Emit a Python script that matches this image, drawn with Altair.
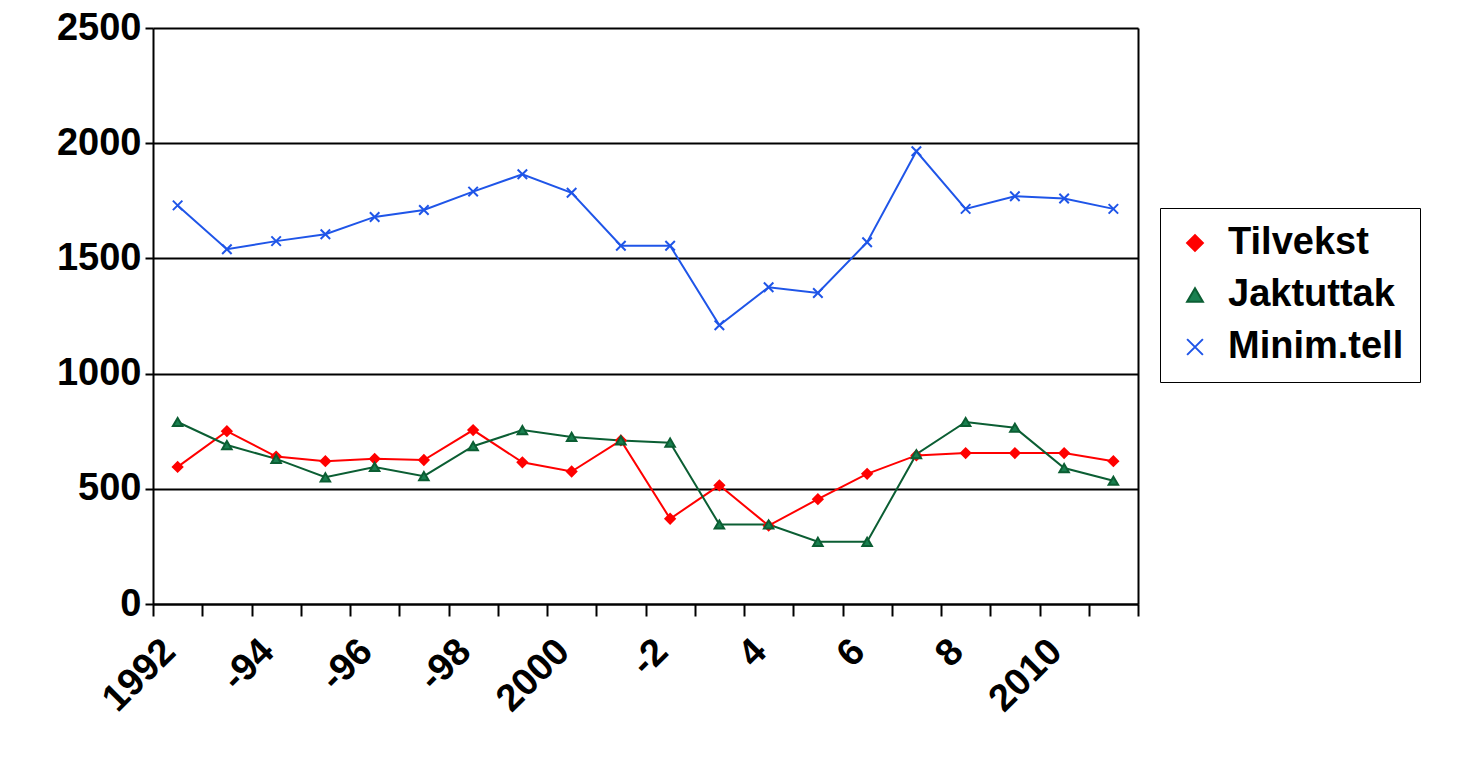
import altair as alt
import pandas as pd

years = [str(y) for y in range(1992, 2012)]
tilvekst = [595, 750, 640, 620, 630, 625, 755, 615, 575, 710, 370, 515, 340, 455, 565, 645, 655, 655, 655, 620]
jaktuttak = [790, 690, 630, 550, 595, 555, 685, 755, 725, 710, 700, 345, 345, 270, 270, 650, 790, 765, 590, 535]
minimtell = [1730, 1540, 1575, 1605, 1680, 1710, 1790, 1865, 1785, 1555, 1555, 1210, 1375, 1350, 1570, 1965, 1715, 1770, 1760, 1715]
series = ["Tilvekst", "Jaktuttak", "Minim.tell"]
labels = {"1992": "1992", "1994": "-94", "1996": "-96", "1998": "-98", "2000": "2000",
          "2002": "-2", "2004": "4", "2006": "6", "2008": "8", "2010": "2010"}

rows = []
for name, vals in zip(series, [tilvekst, jaktuttak, minimtell]):
    for y, v in zip(years, vals):
        rows.append({"year": y, "value": v, "series": name})
df = pd.DataFrame(rows)

expr = "{" + ",".join(f"'{k}':'{v}'" for k, v in labels.items()) + "}[datum.value] || ''"
font = "Liberation Sans"

x = alt.X("year:O", scale=alt.Scale(paddingInner=0, paddingOuter=0),
          axis=alt.Axis(title=None, labelExpr=expr, labelAngle=-45, labelAlign="right",
                        labelBaseline="top", tickBand="extent", tickSize=12, tickColor="black",
                        tickWidth=2, domainColor="black", domainWidth=2, labelFontSize=38,
                        labelFont=font, labelFontWeight="bold", labelColor="black",
                        labelPadding=16, labelOffset=-22, grid=False))
y = alt.Y("value:Q", scale=alt.Scale(domain=[0, 2500]),
          axis=alt.Axis(title=None, values=[0, 500, 1000, 1500, 2000, 2500], format="d", grid=True,
                        gridColor="black", gridWidth=2, domainColor="black", domainWidth=2,
                        tickSize=8, tickColor="black", tickWidth=2, labelFontSize=38,
                        labelFont=font, labelFontWeight="bold", labelColor="black", labelPadding=4))
y_right = alt.Y("value:Q", scale=alt.Scale(domain=[0, 2500]),
                axis=alt.Axis(title=None, orient="right", labels=False, ticks=False, grid=False,
                              domainColor="black", domainWidth=2))
color = alt.Color("series:N", sort=series,
                  scale=alt.Scale(domain=series, range=["#ff0000", "#0b5e33", "#1f55e8"]),
                  legend=alt.Legend(title=None, orient="none", legendX=1007, legendY=180,
                                    labelFontSize=38, labelFont=font, labelFontWeight="bold",
                                    labelColor="black", labelLimit=0, symbolSize=250,
                                    symbolStrokeWidth=2, strokeColor="black", padding=16,
                                    rowPadding=14, labelOffset=14))
shape = alt.Shape("series:N", sort=series,
                  scale=alt.Scale(domain=series,
                                  range=["diamond", "triangle-up", "M-1,-1L1,1M1,-1L-1,1"]),
                  legend=None)
fill = alt.Fill("series:N", sort=series,
                scale=alt.Scale(domain=series, range=["#ff0000", "#1a8050", "transparent"]),
                legend=None)

lines = alt.Chart(df).mark_line(strokeWidth=2).encode(x=x, y=y, color=color)
points = alt.Chart(df).mark_point(size=90, strokeWidth=2, opacity=1).encode(
    x=x, y=y_right, color=color, shape=shape, fill=fill)

chart = (lines + points).resolve_axis(y="independent").properties(
    width=985, height=576, autosize=alt.AutoSizeParams(type="none"),
    padding={"left": 145, "top": 20, "right": 320, "bottom": 140}
).configure_view(stroke="black", strokeWidth=2).configure(background="white")

chart.save("out.html", embed_options={"renderer": "svg", "actions": False})
